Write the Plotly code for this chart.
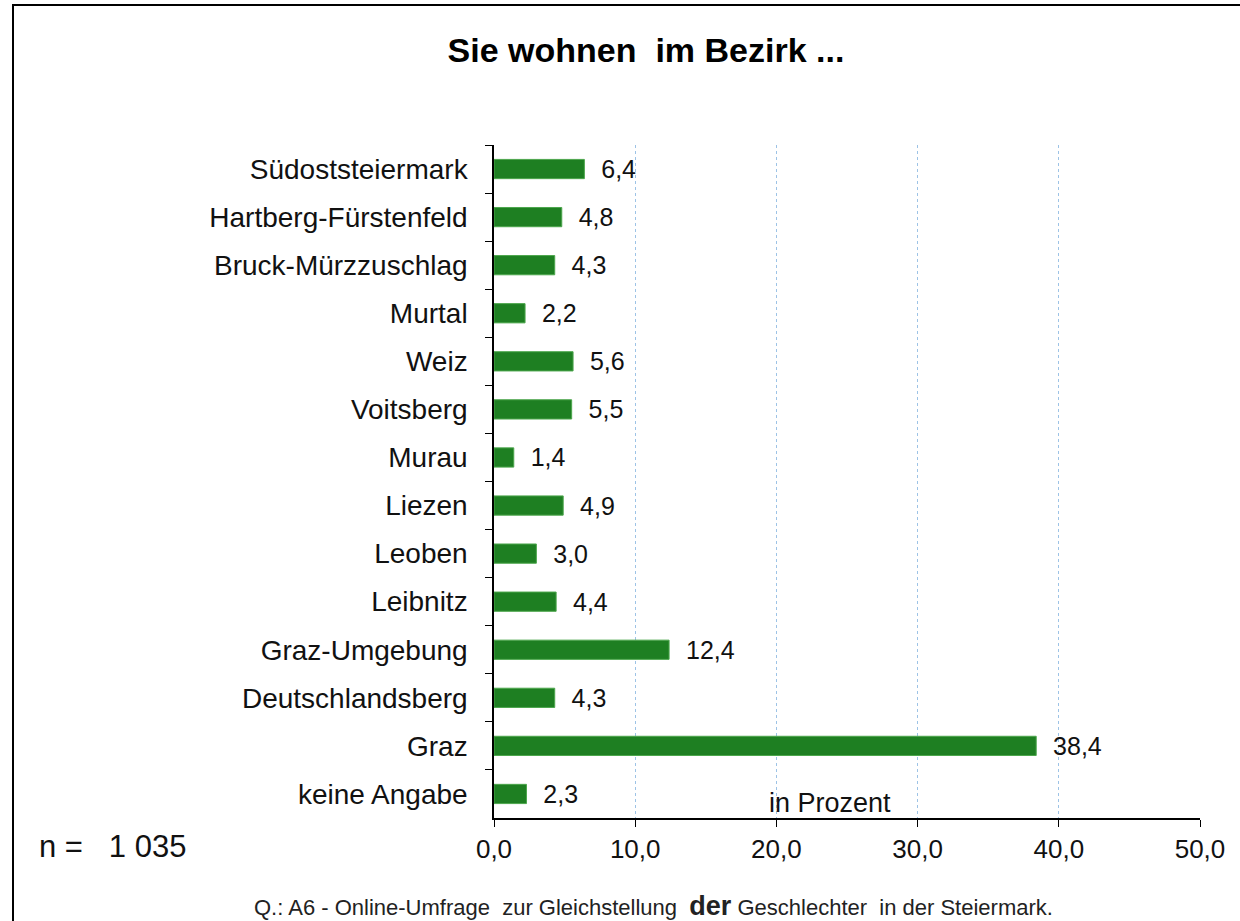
import plotly.graph_objects as go

categories = ["Südoststeiermark", "Hartberg-Fürstenfeld", "Bruck-Mürzzuschlag", "Murtal",
              "Weiz", "Voitsberg", "Murau", "Liezen", "Leoben", "Leibnitz",
              "Graz-Umgebung", "Deutschlandsberg", "Graz", "keine Angabe"]
values = [6.4, 4.8, 4.3, 2.2, 5.6, 5.5, 1.4, 4.9, 3.0, 4.4, 12.4, 4.3, 38.4, 2.3]
x_ticks = [0, 10, 20, 30, 40, 50]

FONT = "Liberation Sans, Arial, sans-serif"

W, H = 1240, 921
L, R, T, B = 494, 1200, 145, 818


def px(xr):
    return (xr - L) / (R - L)


def py(yr):
    return (B - yr) / (B - T)


fig = go.Figure(go.Bar(
    x=values, y=categories, orientation="h",
    marker=dict(color="#1E7F22", line=dict(color="#4CA64C", width=1)),
    width=0.4,
    text=["  " + f"{v:.1f}".replace(".", ",") for v in values],
    textposition="outside", cliponaxis=False, constraintext="none",
    textfont=dict(family=FONT, size=25, color="#111"),
))

fig.update_layout(
    width=W, height=H,
    margin=dict(l=L, r=W - R, t=T, b=H - B, pad=0),
    paper_bgcolor="white", plot_bgcolor="white",
    showlegend=False,
    separators=", ",
    font=dict(family=FONT, color="#111"),
    title=dict(text="<b>Sie wohnen  im Bezirk ...</b>", x=646 / W, xanchor="center",
               y=1 - 50 / H, yanchor="middle", font=dict(size=34, family=FONT, color="#000")),
    xaxis=dict(range=[0, 50], tickvals=x_ticks, tickformat=".1f",
               showgrid=True, gridcolor="#9DC3E6", griddash="dot", gridwidth=1,
               showline=True, linecolor="black", linewidth=1.5,
               ticks="outside", ticklen=7, tickcolor="black",
               tickfont=dict(size=26, family=FONT, color="#111"), zeroline=False),
    yaxis=dict(autorange="reversed", showline=True, linecolor="black", linewidth=1.5,
               ticks="outside", ticklen=7, tickcolor="black", tickson="boundaries",
               ticklabelstandoff=19,
               tickfont=dict(size=28, family=FONT, color="#111"), showgrid=False),
)

fig.add_shape(type="rect", xref="paper", yref="paper",
              x0=px(13), x1=px(1270),
              y0=py(960), y1=py(5),
              line=dict(color="black", width=2), fillcolor="rgba(0,0,0,0)", layer="above")

fig.add_annotation(text="in Prozent", xref="paper", yref="paper",
                   x=px(830), y=py(803), showarrow=False,
                   font=dict(size=27, family=FONT, color="#111"), xanchor="center", yanchor="middle")
fig.add_annotation(text="n =   1 035", xref="paper", yref="paper",
                   x=px(37), y=py(846), showarrow=False,
                   font=dict(size=31, family=FONT, color="#111"), xanchor="left", yanchor="middle")
fig.add_annotation(text="Q.: A6 - Online-Umfrage  zur Gleichstellung  <span style='font-size:27px'><b>der</b></span> Geschlechter  in der Steiermark.",
                   xref="paper", yref="paper",
                   x=px(653), y=py(906), showarrow=False,
                   font=dict(size=22, family=FONT, color="#222"), xanchor="center", yanchor="middle")

fig.write_html("out.html", config={"displayModeBar": False},
               post_script="document.body.style.margin='0';document.body.style.overflow='hidden';")
